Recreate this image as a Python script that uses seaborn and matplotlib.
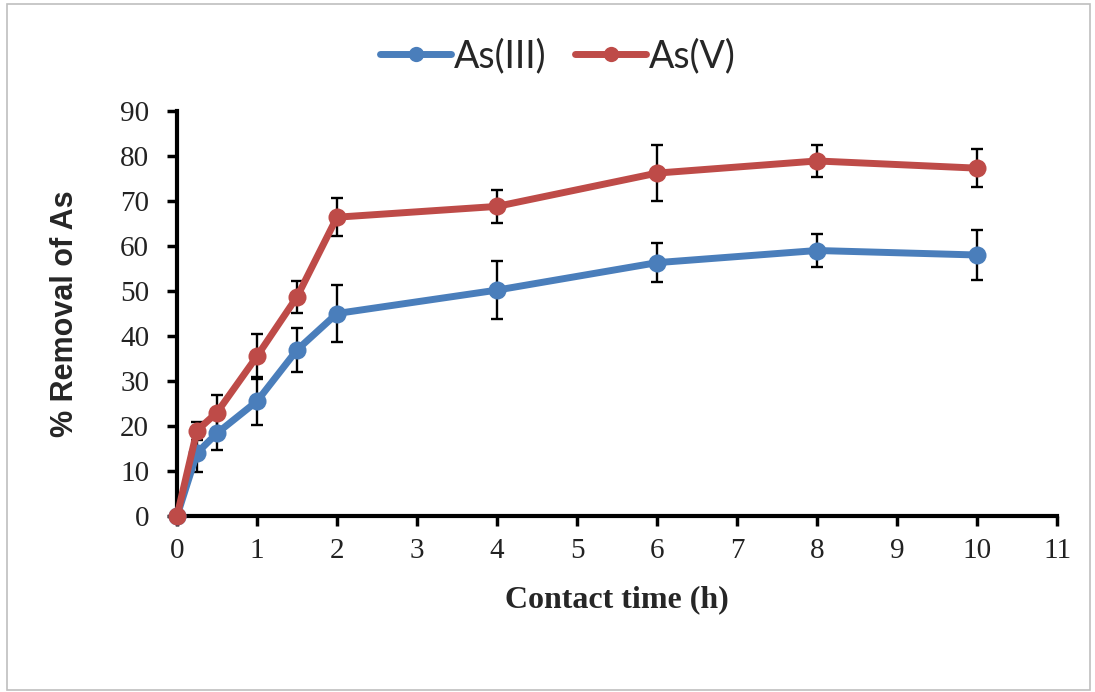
import matplotlib
matplotlib.use("Agg")
import matplotlib.pyplot as plt
import seaborn as sns
import pandas as pd
from matplotlib.patches import Rectangle
from matplotlib.lines import Line2D

# ---- data ----
time_h = [0, 0.25, 0.5, 1, 1.5, 2, 4, 6, 8, 10]
as3_removal = [0, 14, 18.4, 25.5, 36.9, 45.0, 50.2, 56.3, 59.0, 58.0]
as3_err = [0, 4.2, 3.8, 5.3, 4.8, 6.4, 6.5, 4.4, 3.7, 5.5]
as5_removal = [0, 19.0, 23.0, 35.5, 48.7, 66.4, 68.8, 76.2, 78.9, 77.3]
as5_err = [0, 2.0, 4.0, 5.0, 3.5, 4.2, 3.7, 6.2, 3.5, 4.2]
series_names = ["As(III)", "As(V)"]
x_ticks = list(range(0, 12))
y_ticks = list(range(0, 100, 10))

colors = {"As(III)": "#4A7EBB", "As(V)": "#BE4B48"}

df = pd.DataFrame({
    "time": time_h * 2,
    "removal": as3_removal + as5_removal,
    "err": as3_err + as5_err,
    "series": [series_names[0]] * len(time_h) + [series_names[1]] * len(time_h),
})

sns.set_theme(style="white")
plt.rcParams["font.family"] = ["Liberation Serif", "DejaVu Serif"]

fig = plt.figure(figsize=(10.95, 6.92), dpi=100)
ax = fig.add_axes([177 / 1095, 1 - 516 / 692, (1057 - 177) / 1095, (516 - 111) / 692])

# error bars
for name in series_names:
    sub = df[df["series"] == name]
    ax.errorbar(sub["time"], sub["removal"], yerr=sub["err"], fmt="none",
                ecolor="black", elinewidth=1.7, capsize=4.5, capthick=1.7,
                zorder=2, clip_on=False)

sns.lineplot(data=df, x="time", y="removal", hue="series", palette=colors,
             hue_order=series_names, marker="o", markersize=13, linewidth=5,
             markeredgewidth=0, ax=ax, zorder=3, clip_on=False, legend=False)

ax.set_xlim(0, 11)
ax.set_ylim(0, 90)
ax.set_xticks(x_ticks)
ax.set_yticks(y_ticks)
ax.set_xticklabels([str(t) for t in x_ticks])
ax.set_yticklabels([str(t) for t in y_ticks])

for s in ["top", "right"]:
    ax.spines[s].set_visible(False)
for s in ["left", "bottom"]:
    ax.spines[s].set_color("black")
    ax.spines[s].set_linewidth(3)

ax.tick_params(axis="both", which="both", direction="out", length=7, width=2.5,
               color="black", labelsize=21, labelcolor="#222222",
               bottom=True, left=True)
ax.tick_params(axis="y", pad=13)
ax.tick_params(axis="x", pad=9)

ax.set_xlabel("Contact time (h)", fontsize=23, fontweight="bold",
              family=["Liberation Serif"], labelpad=15)
ax.set_ylabel("% Removal of As", fontsize=22, fontweight="bold",
              family=["Liberation Sans"], labelpad=29)
ax.grid(False)

# legend
handles = [Line2D([0], [0], color=colors[n], lw=5, marker="o", markersize=11,
                  markeredgewidth=0) for n in series_names]
fig.legend(handles, series_names, loc="center", bbox_to_anchor=(558 / 1095, 1 - 56 / 692),
           ncol=2, frameon=False, handlelength=1.9, handletextpad=0.08,
           columnspacing=0.75, prop={"family": ["Lato", "Liberation Sans"], "size": 27})

# outer border
fig.patches.append(Rectangle((7 / 1095, 2 / 692), 1 - 12 / 1095, 1 - 6 / 692,
                             transform=fig.transFigure, fill=False,
                             edgecolor="#BFBFBF", linewidth=1.2))

fig.savefig("out.png", dpi=100)
